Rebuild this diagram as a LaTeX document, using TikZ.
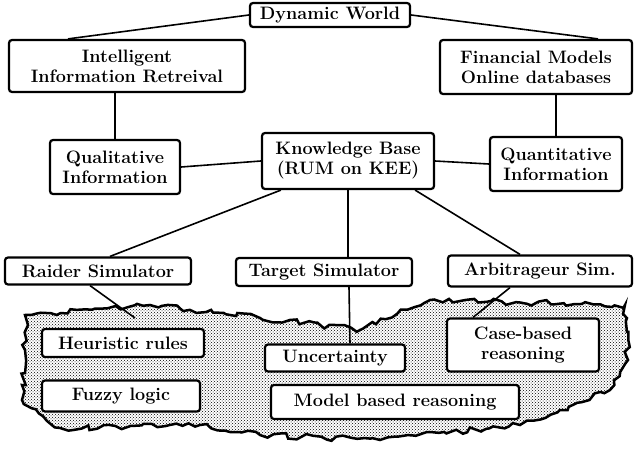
\documentclass[tikz,border=0pt]{standalone}
\usetikzlibrary{decorations.pathmorphing,patterns}
\begin{document}
\begin{tikzpicture}[x=1pt,y=-1pt,
 bx/.style={draw,line width=2.2pt,rounded corners=3pt,inner sep=2pt,font=\fontsize{18}{20}\selectfont\bfseries,align=center},
 ln/.style={line width=1.6pt}]
\useasboundingbox (0,0) rectangle (640,455);
% cloud
\draw[line width=2.5pt,fill=gray!35,pattern=crosshatch dots,decorate,decoration={random steps,segment length=6pt,amplitude=3pt}]
 (25,315) -- (150,305) -- (260,318) -- (360,330) -- (430,300) -- (625,305) -- (628,360) -- (610,390) -- (560,410) -- (520,425) -- (380,440) -- (260,435) -- (200,425) -- (60,428) -- (22,400) -- (25,350) -- cycle;
\node[bx,minimum width=160pt,minimum height=24pt] (dw) at (330,15) {Dynamic World};
\node[bx,minimum width=236pt,minimum height=52pt] (iir) at (127,66) {Intelligent\\ Information Retreival};
\node[bx,minimum width=192pt,minimum height=54pt] (fm) at (536,67) {Financial Models\\ Online databases};
\node[bx,minimum width=130pt,minimum height=54pt] (ql) at (115,167) {Qualitative\\ Information};
\node[bx,minimum width=172pt,minimum height=56pt] (kb) at (348,161) {Knowledge Base\\ (RUM on KEE)};
\node[bx,minimum width=132pt,minimum height=54pt] (qn) at (556,164) {Quantitative\\ Information};
\node[bx,minimum width=186pt,minimum height=27pt] (rs) at (98,271) {Raider Simulator};
\node[bx,minimum width=176pt,minimum height=28pt] (ts) at (324,272) {Target Simulator};
\node[bx,minimum width=184pt,minimum height=31pt] (as) at (540,271) {Arbitrageur Sim.};
\node[bx,fill=white,minimum width=162pt,minimum height=28pt] (hr) at (123,343) {Heuristic rules};
\node[bx,fill=white,minimum width=158pt,minimum height=31pt] (fl) at (121,396) {Fuzzy logic};
\node[bx,fill=white,minimum width=140pt,minimum height=27pt] (un) at (335,358) {Uncertainty};
\node[bx,fill=white,minimum width=152pt,minimum height=53pt] (cb) at (523,345) {Case-based\\ reasoning};
\node[bx,fill=white,minimum width=248pt,minimum height=34pt] (mb) at (395,402) {Model based reasoning};
\draw[ln] (dw.west) -- ([xshift=60pt]iir.north west);
\draw[ln] (dw.east) -- ([xshift=-35pt]fm.north east);
\draw[ln] (iir.south -| ql.north) -- (ql.north);
\draw[ln] (fm.south -| qn.north) -- (qn.north);
\draw[ln] (kb.west) -- (ql.east);
\draw[ln] (kb.east) -- (qn.west);
\draw[ln] ([xshift=20pt]kb.south west) -- ([xshift=12pt]rs.north);
\draw[ln] (kb.south) -- (kb.south |- ts.north);
\draw[ln] ([xshift=-20pt]kb.south east) -- ([xshift=-20pt]as.north);
\draw[ln] ([xshift=-8pt]rs.south) -- (135,318);
\draw[ln] ([xshift=25pt]ts.south) -- ([xshift=15pt]un.north);
\draw[ln] ([xshift=-30pt]as.south) -- ([xshift=-50pt]cb.north);
\end{tikzpicture}
\end{document}
